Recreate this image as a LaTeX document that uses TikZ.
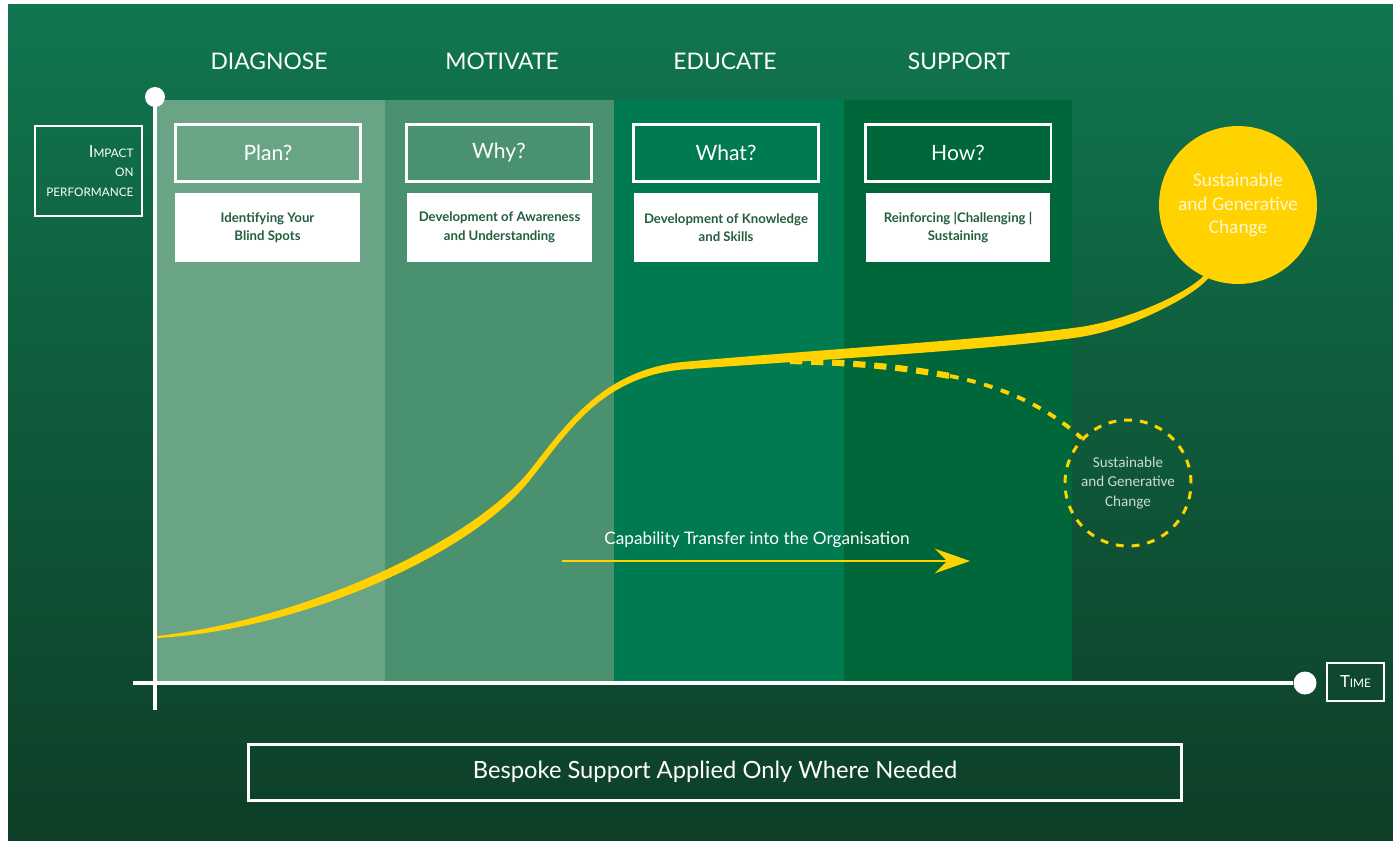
\documentclass[tikz,border=0pt]{standalone}
\usepackage{fontspec}
\setmainfont{Lato}
\newfontfamily\roundfont{Carlito}
\usetikzlibrary{positioning, arrows.meta}

\definecolor{bgtop}{HTML}{10764F}
\definecolor{bgmid}{HTML}{0E5332}
\definecolor{bgbottom}{HTML}{0E3E27}
\definecolor{diagnosecol}{HTML}{69A585}
\definecolor{motivatecol}{HTML}{4A9170}
\definecolor{educatecol}{HTML}{007A50}
\definecolor{supportcol}{HTML}{00673A}
\definecolor{gold}{HTML}{FFD200}
\definecolor{palegold}{HTML}{FFF6D2}
\definecolor{mist}{HTML}{CBDCCF}
\definecolor{inkgreen}{HTML}{235E3F}

\newcommand{\scfirst}[1]{{\fontsize{9.5}{11}\selectfont #1}}

\begin{document}
\begin{tikzpicture}[
  x=0.02cm, y=-0.02cm,
  header/.style={text=white, font=\fontsize{13}{15}\selectfont},
  question/.style={draw=white, line width=1.7pt, minimum width=3.72cm,
                   minimum height=1.14cm, text=white,
                   font=\fontsize{12}{14}\selectfont},
  detail/.style={fill=white, minimum width=3.7cm, minimum height=1.38cm,
                 align=center, text=inkgreen,
                 font=\bfseries\fontsize{7.5}{10.5}\selectfont},
  axislabel/.style={draw=white, line width=1.5pt, text=white,
                    font=\fontsize{6.7}{11}\selectfont},
  banner/.style={draw=white, line width=1.7pt, minimum width=18.68cm,
                 minimum height=1.12cm, text=white,
                 font=\fontsize{13.5}{16}\selectfont},
  dot/.style={circle, fill=white, inner sep=0pt},
  axisline/.style={white, line width=2.3pt},
  goalring/.style={circle, fill=gold, minimum size=3.16cm, align=center,
                   text=palegold, font=\roundfont\fontsize{11}{13.5}\selectfont},
  fadering/.style={circle, draw=gold, line width=1.7pt,
                   dash pattern=on 4.5pt off 4.5pt, minimum size=2.52cm,
                   align=center, text=mist,
                   font=\roundfont\fontsize{8.6}{11}\selectfont},
  fadeline/.style={gold, line width=3.5pt, dash pattern=on 7pt off 5pt},
  flow/.style={gold, line width=1.2pt,
               -{Stealth[length=20pt, width=14pt, inset=7pt]}},
]
\useasboundingbox (0,0) rectangle (1393,840);
\fill[white] (0,0) rectangle (1393,840);
\shade[top color=bgtop, middle color=bgmid, bottom color=bgbottom]
  (8,4) rectangle (1393,840);

\fill[diagnosecol] (155,100) rectangle (385,682);
\fill[motivatecol] (385,100) rectangle (614,682);
\fill[educatecol] (614,100) rectangle (844,682);
\fill[supportcol] (844,100) rectangle (1072,682);

\node[header] (diagnose) at (269,61) {DIAGNOSE};
\node[header] (motivate) at (502,61) {MOTIVATE};
\node[header] (educate) at (725,61) {EDUCATE};
\node[header] (support) at (959,61) {SUPPORT};

\node[question] (plan) at (268,153) {Plan?};
\node[question] (why) at (499,153) {Why?};
\node[question] (what) at (726,153) {What?};
\node[question] (how) at (958,153) {How?};

\node[detail] (blindspots) at (267.5,227.5) {Identifying Your\\Blind Spots};
\node[detail] (awareness) at (499.5,227.5) {Development of Awareness\\and Understanding};
\node[detail] (knowledge) at (726,227.5) {Development of Knowledge\\and Skills};
\node[detail] (sustaining) at (958,227.5) {Reinforcing |Challenging |\\Sustaining};

\node[axislabel, align=right, text width=1.8cm, minimum width=2.14cm,
      minimum height=1.8cm] (impact) at (88.5,171)
      {\scfirst{I}MPACT\\ON\\PERFORMANCE};
\node[axislabel, align=center, minimum width=1.14cm, minimum height=0.76cm]
      (time) at (1355.5,682) {\scfirst{T}IME};

\node[dot, minimum size=0.4cm] (ytop) at (155,97) {};
\node[dot, minimum size=0.46cm] (xend) at (1305,683) {};
\coordinate (ybottom) at (155,710);
\coordinate (xstart) at (133,683);
\draw[axisline] (ytop) -- (ybottom);
\draw[axisline] (xstart) -- (xend);

\node[fadering] (fade) at (1128,483) {Sustainable\\and Generative\\Change};
\coordinate (fork) at (790,361);
\coordinate (forkmid) at (950,376);
\draw[fadeline] (fork) .. controls (860,363) and (900,367) .. (forkmid);
\draw[fadeline, line width=2.2pt, dash pattern=on 5pt off 5pt]
  (forkmid) .. controls (1000,386) and (1045,405) .. (fade.136);

\fill[gold] (156.9,636)
  .. controls (299.6,620) and (465.3,546.3) .. (527.7,473.1)
  .. controls (563.3,428.6) and (599.6,371.8) .. (679.6,362.3)
  .. controls (799.6,351) and (999.2,338.6) .. (1079.3,327.1)
  .. controls (1129.3,320) and (1187.8,293) .. (1204.1,275.3)
  -- (1218,256.5) -- (1222,259.5) -- (1207.9,278.7)
  .. controls (1192.2,297) and (1130.7,329) .. (1080.7,336.9)
  .. controls (1000.8,349.4) and (800.4,361) .. (680.4,369.7)
  .. controls (600.4,378.2) and (567.9,432.4) .. (532.3,476.9)
  .. controls (474.7,553.7) and (300.4,630) .. (157.1,638)
  -- cycle;

\node[goalring] (goal) at (1238,205) {Sustainable\\and Generative\\Change};

\coordinate (flowstart) at (562,561);
\coordinate (flowend) at (970,561);
\draw[flow] (flowstart) -- (flowend);
\node[text=white, font=\fontsize{9.8}{12}\selectfont] (flowlabel) at (757,540)
  {Capability Transfer into the Organisation};

\node[banner] (bespoke) at (715,772) {Bespoke Support Applied Only Where Needed};
\end{tikzpicture}
\end{document}
